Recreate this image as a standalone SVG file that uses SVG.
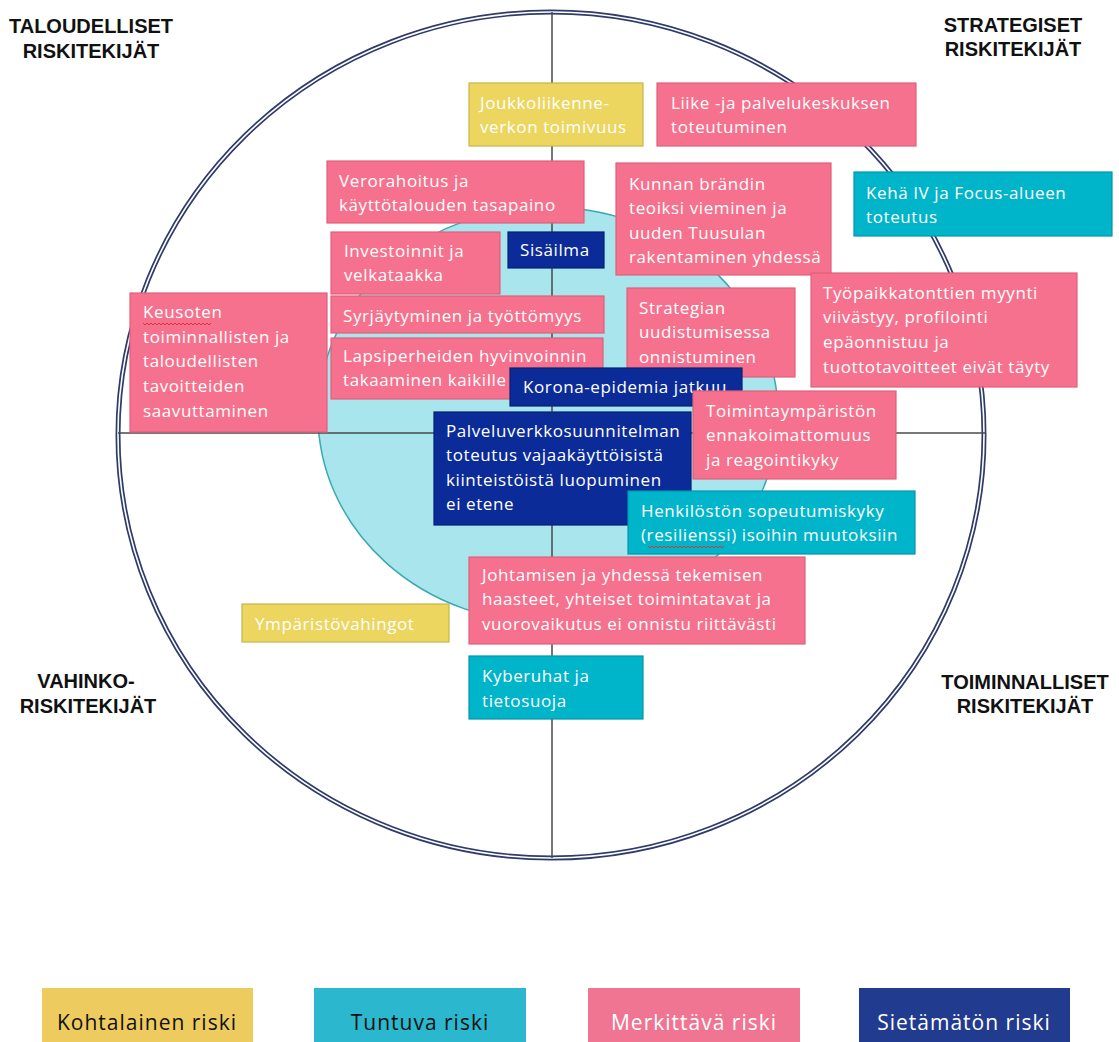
<svg xmlns="http://www.w3.org/2000/svg" width="1119" height="1042" viewBox="0 0 1119 1042">
<style>
.bx{stroke-width:1.2}
.pink{fill:#f6718d;stroke:#e2607c}
.yel{fill:#ecd65f;stroke:#c8b546}
.teal{fill:#00b5ca;stroke:#0097aa}
.navy{fill:#0b2c98;stroke:#071f72}
.t{font-family:"Open Sans","Liberation Sans",sans-serif;font-size:17px;letter-spacing:0.6px;fill:#ffffff}
.h{font-family:"Liberation Sans",Arial,sans-serif;font-size:20px;font-weight:bold;fill:#111111;text-anchor:middle}
.lg{font-family:"Open Sans","Liberation Sans",sans-serif;font-size:21px;letter-spacing:1px;text-anchor:middle}
.sq{fill:none;stroke:#e03030;stroke-width:1}
</style>
<rect width="1119" height="1042" fill="#ffffff"/>
<g id="background">
<ellipse cx="551" cy="435" rx="433" ry="423" fill="none" stroke="#2f3b68" stroke-width="5"/>
<ellipse cx="551" cy="435" rx="433" ry="423" fill="none" stroke="#ffffff" stroke-width="1.6"/>
<ellipse cx="548" cy="415" rx="230" ry="208" fill="#a8e5ec" stroke="#3aa8b2" stroke-width="1.5"/>
</g>
<g id="connectors">
<line x1="552" y1="12" x2="552" y2="858" stroke="#4a4a4a" stroke-width="1.5"/>
<line x1="118" y1="433" x2="985" y2="433" stroke="#4a4a4a" stroke-width="1.5"/>
</g>
<g id="labels">
<text class="h" x="91" y="33">TALOUDELLISET</text>
<text class="h" x="91" y="58">RISKITEKIJÄT</text>
<text class="h" x="1013" y="32">STRATEGISET</text>
<text class="h" x="1013" y="56">RISKITEKIJÄT</text>
<text class="h" x="86" y="688">VAHINKO-</text>
<text class="h" x="88" y="713">RISKITEKIJÄT</text>
<text class="h" x="1025" y="689">TOIMINNALLISET</text>
<text class="h" x="1025" y="713">RISKITEKIJÄT</text>
</g>
<g id="n-joukko"><rect class="bx yel" x="469" y="83" width="174" height="63"/>
<text class="t" x="480" y="109">Joukkoliikenne-</text><text class="t" x="480" y="133">verkon toimivuus</text></g>
<g id="n-liike"><rect class="bx pink" x="657" y="83" width="259" height="63"/>
<text class="t" x="671" y="109">Liike -ja palvelukeskuksen</text><text class="t" x="671" y="133">toteutuminen</text></g>
<g id="n-keha"><rect class="bx teal" x="854" y="172" width="258" height="64"/>
<text class="t" x="866" y="199">Kehä IV ja Focus-alueen</text><text class="t" x="866" y="223">toteutus</text></g>
<g id="n-kunnan"><rect class="bx pink" x="616" y="163" width="215" height="112"/>
<text class="t" x="629" y="190">Kunnan brändin</text><text class="t" x="629" y="214">teoiksi vieminen ja</text><text class="t" x="629" y="239">uuden Tuusulan</text><text class="t" x="629" y="263">rakentaminen yhdessä</text></g>
<g id="n-vero"><rect class="bx pink" x="327" y="161" width="257" height="62"/>
<text class="t" x="339" y="187">Verorahoitus ja</text><text class="t" x="339" y="211">käyttötalouden tasapaino</text></g>
<g id="n-invest"><rect class="bx pink" x="331" y="232" width="169" height="62"/>
<text class="t" x="344" y="257">Investoinnit ja</text><text class="t" x="344" y="281">velkataakka</text></g>
<g id="n-sisailma"><rect class="bx navy" x="508" y="232" width="96" height="36"/>
<text class="t" x="520" y="256">Sisäilma</text></g>
<g id="n-keusote"><rect class="bx pink" x="130" y="293" width="197" height="139"/>
<text class="t" x="143" y="318">Keusoten</text><text class="t" x="143" y="343">toiminnallisten ja</text><text class="t" x="143" y="367">taloudellisten</text><text class="t" x="143" y="392">tavoitteiden</text><text class="t" x="143" y="417">saavuttaminen</text>
<path class="sq" d="M143 323 l2 2 l2 -2 l2 2 l2 -2 l2 2 l2 -2 l2 2 l2 -2 l2 2 l2 -2 l2 2 l2 -2 l2 2 l2 -2 l2 2 l2 -2 l2 2 l2 -2 l2 2 l2 -2 l2 2 l2 -2 l2 2 l2 -2 l2 2 l2 -2 l2 2 l2 -2 l2 2 l2 -2 l2 2 l2 -2 l2 2 l2 -2"/></g>
<g id="n-syrja"><rect class="bx pink" x="331" y="296" width="273" height="37"/>
<text class="t" x="343" y="322">Syrjäytyminen ja työttömyys</text></g>
<g id="n-lapsi"><rect class="bx pink" x="331" y="338" width="272" height="61"/>
<text class="t" x="343" y="362">Lapsiperheiden hyvinvoinnin</text><text class="t" x="343" y="386">takaaminen kaikille</text></g>
<g id="n-strategia"><rect class="bx pink" x="627" y="288" width="168" height="89"/>
<text class="t" x="639" y="314">Strategian</text><text class="t" x="639" y="338">uudistumisessa</text><text class="t" x="639" y="363">onnistuminen</text></g>
<g id="n-tyopaikka"><rect class="bx pink" x="811" y="273" width="266" height="114"/>
<text class="t" x="823" y="299">Työpaikkatonttien myynti</text><text class="t" x="823" y="323">viivästyy, profilointi</text><text class="t" x="823" y="348">epäonnistuu ja</text><text class="t" x="823" y="373">tuottotavoitteet eivät täyty</text></g>
<g id="n-korona"><rect class="bx navy" x="510" y="368" width="232" height="38"/>
<text class="t" x="523" y="393">Korona-epidemia jatkuu</text></g>
<g id="n-toiminta"><rect class="bx pink" x="693" y="391" width="203" height="88"/>
<text class="t" x="706" y="417">Toimintaympäristön</text><text class="t" x="706" y="441">ennakoimattomuus</text><text class="t" x="706" y="466">ja reagointikyky</text></g>
<g id="n-palvelu"><rect class="bx navy" x="434" y="412" width="257" height="113"/>
<text class="t" x="446" y="437">Palveluverkkosuunnitelman</text><text class="t" x="446" y="461">toteutus vajaakäyttöisistä</text><text class="t" x="446" y="486">kiinteistöistä luopuminen</text><text class="t" x="446" y="510">ei etene</text></g>
<g id="n-henkilosto"><rect class="bx teal" x="628" y="491" width="287" height="63"/>
<text class="t" x="641" y="517">Henkilöstön sopeutumiskyky</text><text class="t" x="641" y="541">(resilienssi) isoihin muutoksiin</text>
<path class="sq" d="M648 546 l2 2 l2 -2 l2 2 l2 -2 l2 2 l2 -2 l2 2 l2 -2 l2 2 l2 -2 l2 2 l2 -2 l2 2 l2 -2 l2 2 l2 -2 l2 2 l2 -2 l2 2 l2 -2 l2 2 l2 -2 l2 2 l2 -2 l2 2 l2 -2 l2 2 l2 -2 l2 2 l2 -2 l2 2 l2 -2 l2 2 l2 -2 l2 2 l2 -2 l2 2 l2 -2"/></g>
<g id="n-johtaminen"><rect class="bx pink" x="469" y="557" width="336" height="87"/>
<text class="t" x="482" y="581">Johtamisen ja yhdessä tekemisen</text><text class="t" x="482" y="605">haasteet, yhteiset toimintatavat ja</text><text class="t" x="482" y="630">vuorovaikutus ei onnistu riittävästi</text></g>
<g id="n-ymparisto"><rect class="bx yel" x="242" y="604" width="207" height="38"/>
<text class="t" x="255" y="630">Ympäristövahingot</text></g>
<g id="n-kyber"><rect class="bx teal" x="469" y="656" width="174" height="63"/>
<text class="t" x="482" y="682">Kyberuhat ja</text><text class="t" x="482" y="707">tietosuoja</text></g>
<g id="legend">
<g id="lg-kohtalainen"><rect x="42" y="988" width="211" height="54" fill="#eecb5f"/><text class="lg" x="147" y="1030" fill="#111111">Kohtalainen riski</text></g>
<g id="lg-tuntuva"><rect x="314" y="988" width="212" height="54" fill="#2bb8ce"/><text class="lg" x="420" y="1030" fill="#111111">Tuntuva riski</text></g>
<g id="lg-merkittava"><rect x="588" y="988" width="212" height="54" fill="#ef7593"/><text class="lg" x="694" y="1030" fill="#ffffff">Merkittävä riski</text></g>
<g id="lg-sietamaton"><rect x="859" y="988" width="211" height="54" fill="#213b8e"/><text class="lg" x="964" y="1030" fill="#ffffff">Sietämätön riski</text></g>
</g>
</svg>
